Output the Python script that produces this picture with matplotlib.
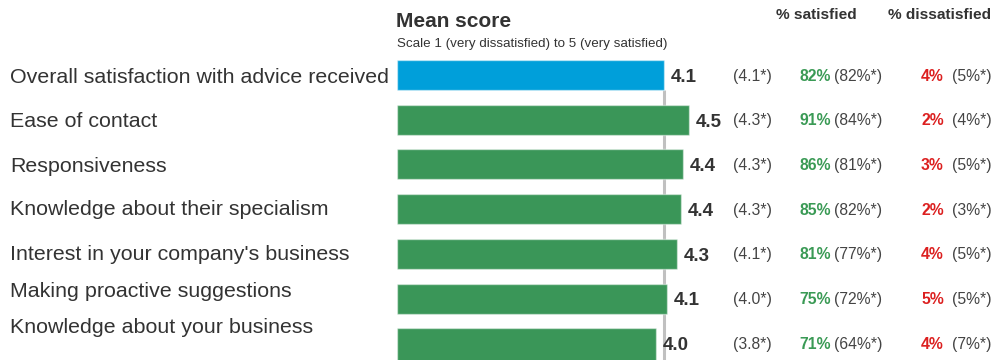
import matplotlib
matplotlib.use("Agg")
import matplotlib.pyplot as plt
from matplotlib import transforms

plt.rcParams["font.family"] = ["Liberation Sans", "DejaVu Sans"]

# ---- data -------------------------------------------------------------
categories = [
    "Overall satisfaction with advice received",
    "Ease of contact",
    "Responsiveness",
    "Knowledge about their specialism",
    "Interest in your company's business",
    "Making proactive suggestions",
    "Knowledge about your business",
]
mean_score = [4.10, 4.48, 4.39, 4.36, 4.30, 4.14, 3.98]
prev_mean = [4.1, 4.3, 4.3, 4.3, 4.1, 4.0, 3.8]
pct_satisfied = [82, 91, 86, 85, 81, 75, 71]
prev_satisfied = [82, 84, 81, 82, 77, 72, 64]
pct_dissatisfied = [4, 2, 3, 2, 4, 5, 4]
prev_dissatisfied = [5, 4, 5, 3, 5, 5, 7]

# ---- style ------------------------------------------------------------
BLUE = "#009fda"
GREEN = "#3a9658"
GREEN_TXT = "#3a9a55"
RED = "#dc2020"
DARK = "#333333"
MID = "#444444"
REF = "#c0c0c0"

W, H = 997, 360
fig = plt.figure(figsize=(W / 100, H / 100), dpi=100)

# bar axes: zero at x=397px, 65.1 px per scale unit
px_per_unit = 65.1
x0 = 397
ax = fig.add_axes([x0 / W, 0, (W - x0) / W, 1])
ax.set_xlim(0, (W - x0) / px_per_unit)
row_px = 44.7
first_px = 75
ax.set_ylim((H - first_px) / row_px, -first_px / row_px)
ax.axis("off")

n = len(categories)
rows = list(range(n))
bar_h = 30 / row_px
colors = [BLUE] + [GREEN] * (n - 1)

# reference line at the overall score, behind the bars
ax.vlines(mean_score[0], bar_h / 2, (H - first_px) / row_px,
          color=REF, linewidth=2.2, zorder=1)
bars = ax.barh(rows, mean_score, height=bar_h, color=colors,
               edgecolor=(1, 1, 1, 0.45), linewidth=1.0, zorder=2)
# the last bar runs off the bottom edge
bars[-1].set_height(bar_h * 1.2)

for r, v in zip(rows, mean_score):
    ax.annotate(f"{v:.1f}", xy=(v, r), xytext=(5, -5.0),
                textcoords="offset points", ha="left", va="baseline",
                fontsize=13.5, fontweight="bold", color=DARK)

# category labels (px shifts keep long labels clear of the rows below)
label_shift_px = [0, 0, 0, -2, -2, -9.5, -18]
tr_lab = transforms.blended_transform_factory(fig.transFigure, ax.transData)
for r, name, s in zip(rows, categories, label_shift_px):
    lab_off = transforms.offset_copy(tr_lab, fig=fig, x=0,
                                     y=-(7.7 + s) * 72 / 100, units="points")
    ax.text(10 / W, r, name, transform=lab_off, ha="left", va="baseline",
            fontsize=15.4, color=DARK)

# right-hand columns
col_off = transforms.offset_copy(tr_lab, fig=fig, x=0, y=-4.1, units="points")
for r in rows:
    ax.text(733 / W, r, f"({prev_mean[r]:.1f}*)", transform=col_off,
            ha="left", va="baseline", fontsize=11.3, color=MID)
    ax.text(799 / W, r, f"{pct_satisfied[r]}%", transform=col_off,
            ha="left", va="baseline", fontsize=11.3, fontweight="bold",
            color=GREEN_TXT)
    ax.text(834 / W, r, f"({prev_satisfied[r]}%*)", transform=col_off,
            ha="left", va="baseline", fontsize=11.3, color=MID)
    ax.text(921 / W, r, f"{pct_dissatisfied[r]}%", transform=col_off,
            ha="left", va="baseline", fontsize=11.3, fontweight="bold",
            color=RED)
    ax.text(952 / W, r, f"({prev_dissatisfied[r]}%*)", transform=col_off,
            ha="left", va="baseline", fontsize=11.3, color=MID)

# titles and column headers
fig.text(396 / W, 1 - 27 / H, "Mean score", ha="left", va="baseline",
         fontsize=15, fontweight="bold", color=DARK)
fig.text(397 / W, 1 - 47 / H,
         "Scale 1 (very dissatisfied) to 5 (very satisfied)",
         ha="left", va="baseline", fontsize=9.6, color=DARK)
fig.text(776 / W, 1 - 19 / H, "% satisfied", ha="left", va="baseline",
         fontsize=11.1, fontweight="bold", color=DARK)
fig.text(888 / W, 1 - 19 / H, "% dissatisfied", ha="left", va="baseline",
         fontsize=11.1, fontweight="bold", color=DARK)

fig.savefig("out.png", dpi=100, facecolor="white")
